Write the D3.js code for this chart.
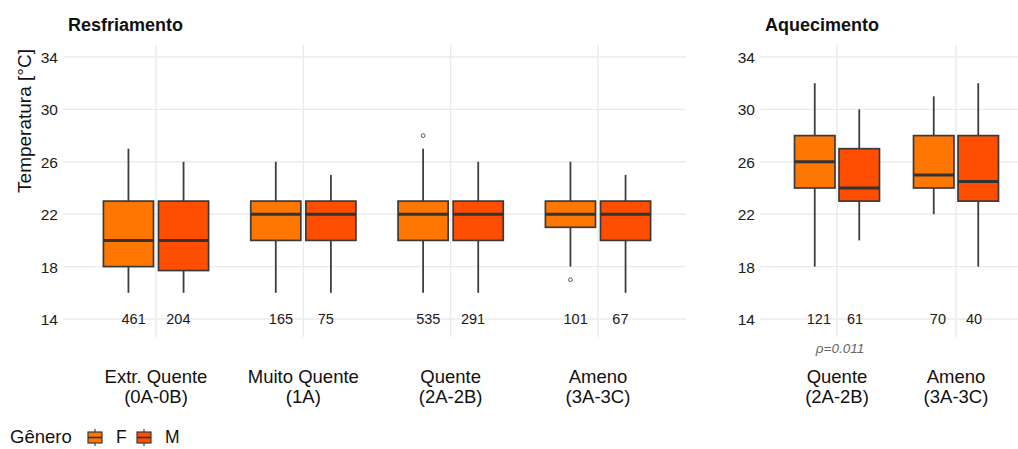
<!DOCTYPE html>
<html><head><meta charset="utf-8">
<script src="https://cdn.jsdelivr.net/npm/d3@7"></script>
<style>body{margin:0;background:#fff}svg{display:block;font-family:"Liberation Sans",Arial,sans-serif}</style>
</head><body><svg id="c" width="1018" height="449"></svg>
<script>
// ---- data ----
const leftCats = ["Extr. Quente\n(0A-0B)", "Muito Quente\n(1A)", "Quente\n(2A-2B)", "Ameno\n(3A-3C)"];
const rightCats = ["Quente\n(2A-2B)", "Ameno\n(3A-3C)"];
const genders = ["F", "M"];
const genderColors = ["#FF7700", "#FF4E00"];
const yTicks = [14, 18, 22, 26, 30, 34];
// [lowerWhisker, Q1, median, Q3, upperWhisker] per category, per gender
const leftF = [[16,18,20,23,27],[16,20,22,23,26],[16,20,22,23,27],[18,21,22,23,26]];
const leftM = [[16,17.7,20,23,26],[16,20,22,23,25],[16,20,22,23,26],[16,20,22,23,25]];
const rightF = [[18,24,26,28,32],[22,24,25,28,31]];
const rightM = [[20,23,24,27,30],[18,23,24.5,28,32]];
const leftOutF = [[],[],[28],[17]];
const leftOutM = [[],[],[],[]];
const rightOutF = [[],[]];
const rightOutM = [[],[]];
const leftN = [[461,204],[165,75],[535,291],[101,67]];
const rightN = [[121,61],[70,40]];
const pLabel = "ρ=0.011";

const svg = d3.select("#c");
const y = d3.scaleLinear().domain([14,34]).range([319,57]);
const panelTop = 45, panelBot = 337;

function panel(opts){
  const {x0,x1,c0,c1,cats,F,M,outF,outM,N,title,tickRight} = opts;
  const x = d3.scalePoint().domain(cats).range([c0,c1]);
  const step = cats.length>1 ? (c1-c0)/(cats.length-1) : 100;
  const g = svg.append("g");
  // grid
  g.selectAll(".hg").data(yTicks).join("line")
    .attr("x1",x0).attr("x2",x1).attr("y1",d=>y(d)).attr("y2",d=>y(d))
    .attr("stroke","#ebebeb").attr("stroke-width",1.4);
  g.selectAll(".vg").data(cats).join("line")
    .attr("x1",d=>x(d)).attr("x2",d=>x(d)).attr("y1",panelTop).attr("y2",panelBot)
    .attr("stroke","#ebebeb").attr("stroke-width",1.4);
  // y axis labels
  const yAxis = d3.axisLeft(y).tickValues(yTicks).tickSize(0).tickPadding(0);
  const ga = g.append("g").attr("transform",`translate(${tickRight},0)`).call(yAxis);
  ga.select(".domain").remove();
  ga.selectAll("text").attr("font-size",15.5).attr("fill","#1a1a1a").attr("font-family","Liberation Sans, Arial, sans-serif").attr("dy","0.35em");
  // boxes
  const bw = 0.34*step, off = 0.187*step, lo = 0.152*step;
  [F,M].forEach((ser,gi)=>{
    const dx = gi===0 ? -off : off;
    const outs = gi===0 ? outF : outM;
    cats.forEach((c,i)=>{
      const s = ser[i]; const cx = x(c)+dx;
      g.append("line").attr("x1",cx).attr("x2",cx).attr("y1",y(s[3])).attr("y2",y(s[4])).attr("stroke","#3d3d3d").attr("stroke-width",1.8);
      g.append("line").attr("x1",cx).attr("x2",cx).attr("y1",y(s[0])).attr("y2",y(s[1])).attr("stroke","#3d3d3d").attr("stroke-width",1.8);
      g.append("rect").attr("x",cx-bw/2).attr("width",bw).attr("y",y(s[3])).attr("height",y(s[1])-y(s[3]))
        .attr("fill",genderColors[gi]).attr("stroke","#3a3a3a").attr("stroke-width",1.7);
      g.append("line").attr("x1",cx-bw/2).attr("x2",cx+bw/2).attr("y1",y(s[2])).attr("y2",y(s[2])).attr("stroke","#333").attr("stroke-width",3);
      outs[i].forEach(v=>{
        g.append("circle").attr("cx",cx).attr("cy",y(v)).attr("r",1.9).attr("fill","none").attr("stroke","#555").attr("stroke-width",1);
      });
      g.append("text").attr("x",x(c)+(gi===0?-lo:lo)).attr("y",y(14)+5).attr("text-anchor","middle")
        .attr("font-size",14.5).attr("fill","#1a1a1a").text(N[i][gi]);
    });
  });
  // category labels
  cats.forEach(c=>{
    const lines = c.split("\n");
    const t = g.append("text").attr("text-anchor","middle").attr("font-size",18.5).attr("fill","#111");
    lines.forEach((l,k)=>t.append("tspan").attr("x",x(c)).attr("y",383+k*20).text(l));
  });
  // title
  g.append("text").attr("x",x0+5).attr("y",31).attr("font-size",18).attr("font-weight","bold").attr("fill","#111").text(title);
  return x;
}

panel({x0:63,x1:686,c0:156,c1:598,cats:leftCats,F:leftF,M:leftM,outF:leftOutF,outM:leftOutM,N:leftN,title:"Resfriamento",tickRight:58});
const xr = panel({x0:760,x1:1018,c0:837,c1:956,cats:rightCats,F:rightF,M:rightM,outF:rightOutF,outM:rightOutM,N:rightN,title:"Aquecimento",tickRight:755});

svg.append("text").attr("x",xr(rightCats[0])+3).attr("y",353).attr("text-anchor","middle")
  .attr("font-size",13.5).attr("font-style","italic").attr("fill","#666").text(pLabel);

// y-axis title
svg.append("text").attr("transform","translate(24,121) rotate(-90)").attr("text-anchor","middle")
  .attr("dy","0.35em").attr("font-size",19).attr("fill","#111").text("Temperatura [°C]");

// legend
const lg = svg.append("g");
lg.append("text").attr("x",10).attr("y",443).attr("font-size",18.5).attr("fill","#111").text("Gênero");
const lx = d3.scalePoint().domain(genders).range([88,137]);
genders.forEach((gname,i)=>{
  const kx = lx(gname);
  lg.append("line").attr("x1",kx+7).attr("x2",kx+7).attr("y1",429).attr("y2",446).attr("stroke","#444").attr("stroke-width",1.2);
  lg.append("rect").attr("x",kx).attr("y",432).attr("width",14).attr("height",11).attr("fill",genderColors[i]).attr("stroke","#3a3a3a").attr("stroke-width",1.2);
  lg.append("line").attr("x1",kx).attr("x2",kx+14).attr("y1",437.5).attr("y2",437.5).attr("stroke","#333").attr("stroke-width",1.6);
  lg.append("text").attr("x",kx+28).attr("y",443).attr("font-size",17.5).attr("fill","#111").text(gname);
});
</script></body></html>
